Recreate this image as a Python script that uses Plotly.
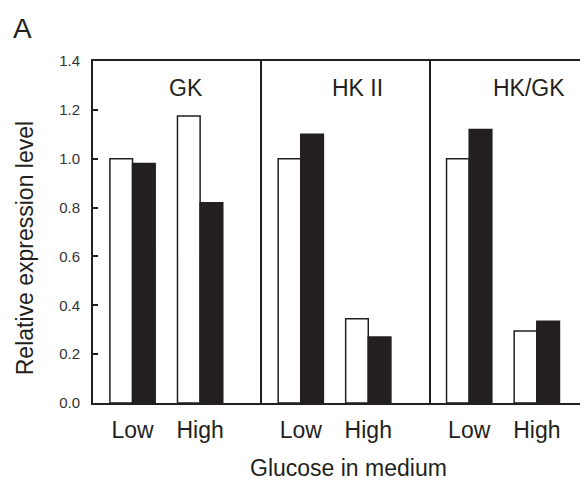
import plotly.graph_objects as go

panels = ["GK", "HK II", "HK/GK"]
glucose = ["Low", "High"]
white_vals = {"GK": [1.00, 1.175], "HK II": [1.00, 0.345], "HK/GK": [1.00, 0.295]}
black_vals = {"GK": [0.98, 0.82], "HK II": [1.10, 0.27], "HK/GK": [1.12, 0.335]}
y_ticks = [0.0, 0.2, 0.4, 0.6, 0.8, 1.0, 1.2, 1.4]

INK = "#231f20"
FONT = "Liberation Sans, Arial, Helvetica, sans-serif"

fig = go.Figure()
domains = [[0.0, 0.3408], [0.3408, 0.6828], [0.6828, 1.0]]
ranges = [[-0.585, 1.911], [-0.579, 1.929], [-0.565, 1.757]]
label_x = [0.786, 0.847, 0.885]

for i, p in enumerate(panels):
    xa = "x" if i == 0 else f"x{i+1}"
    ya = "y" if i == 0 else f"y{i+1}"
    fig.add_trace(go.Bar(x=glucose, y=white_vals[p], xaxis=xa, yaxis=ya,
                         marker=dict(color="white", line=dict(color=INK, width=1.5)),
                         showlegend=False, hoverinfo="skip"))
    fig.add_trace(go.Bar(x=glucose, y=black_vals[p], xaxis=xa, yaxis=ya,
                         marker=dict(color=INK, line=dict(color=INK, width=1.5)),
                         showlegend=False, hoverinfo="skip"))
    xkey = "xaxis" if i == 0 else f"xaxis{i+1}"
    ykey = "yaxis" if i == 0 else f"yaxis{i+1}"
    fig.layout[xkey] = dict(domain=domains[i], range=ranges[i], anchor=ya,
                            type="category", showline=True, mirror=True,
                            linecolor=INK, linewidth=2, ticks="",
                            showgrid=False, zeroline=False,
                            tickfont=dict(family=FONT, size=23, color=INK),
                            ticklabelstandoff=5, fixedrange=True)
    fig.layout[ykey] = dict(domain=[0, 1], range=[0, 1.4], anchor=xa,
                            showline=True, linecolor=INK, linewidth=2,
                            showgrid=False, zeroline=False, fixedrange=True,
                            showticklabels=(i == 0),
                            ticks="inside" if i == 0 else "",
                            tickvals=y_ticks if i == 0 else None,
                            tickformat=".1f", ticklen=5, tickwidth=1.5,
                            tickcolor=INK,
                            tickfont=dict(family=FONT, size=15, color="#333333"),
                            ticklabelstandoff=8)
    fig.add_annotation(text=p, x=label_x[i], y=0.921, xref=xa, yref="paper",
                       showarrow=False, xanchor="center", yanchor="middle",
                       font=dict(family=FONT, size=23, color=INK))

fig.add_annotation(text="Relative expression level", x=-0.137, y=0.453,
                   xref="paper", yref="paper", textangle=-90, showarrow=False,
                   xanchor="center", yanchor="middle",
                   font=dict(family=FONT, size=23, color=INK))
fig.add_annotation(text="Glucose in medium", x=0.516, y=-0.234,
                   xref="paper", yref="paper", showarrow=False,
                   xanchor="center", yanchor="bottom",
                   font=dict(family=FONT, size=23, color=INK))
fig.add_annotation(text="A", x=-0.142, y=1.096,
                   xref="paper", yref="paper", showarrow=False,
                   xanchor="center", yanchor="middle",
                   font=dict(family=FONT, size=28, color=INK))

# the page adds an 8px body margin, so the figure is 8px smaller than the window
fig.update_layout(width=580, height=475, barmode="group", bargap=0.33,
                  bargroupgap=0, plot_bgcolor="white", paper_bgcolor="white",
                  margin=dict(l=85, r=0, t=53, b=80))
fig.write_html("out.html")
